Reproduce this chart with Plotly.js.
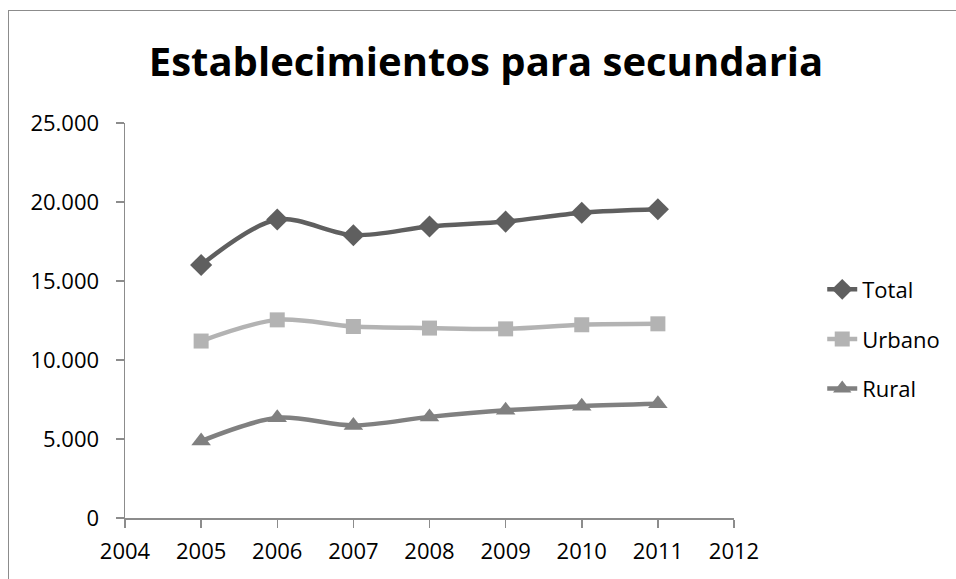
<!DOCTYPE html>
<html>
<head>
<meta charset="utf-8">
<script src="https://cdn.plot.ly/plotly-3.0.1.min.js"></script>
<style>
html,body{margin:0;padding:0;background:#fff;}
#frame{position:absolute;left:8px;top:10px;width:1000px;height:620px;border:1.5px solid #8c8c8c;box-sizing:border-box;}
#chart{position:absolute;left:0;top:0;width:956px;height:579px;}
</style>
</head>
<body>
<div id="frame"></div>
<div id="chart"></div>
<script>
var years = [2005, 2006, 2007, 2008, 2009, 2010, 2011];
var total = [16010, 18890, 17900, 18450, 18760, 19320, 19540];
var urbano = [11200, 12540, 12120, 12020, 11970, 12230, 12290];
var rural = [4870, 6340, 5860, 6400, 6820, 7080, 7230];
var seriesNames = ["Total", "Urbano", "Rural"];
var yTicks = [0, 5000, 10000, 15000, 20000, 25000];
var xTicks = [2004, 2005, 2006, 2007, 2008, 2009, 2010, 2011, 2012];

function tr(name, y, color, symbol, size) {
  return {
    x: years, y: y, name: name, legendgroup: name, type: 'scatter', mode: 'lines+markers',
    line: {color: color, width: 4.5, shape: 'spline', smoothing: 0.9},
    marker: {color: color, symbol: symbol, size: size}
  };
}
var data = [
  tr(seriesNames[0], total, '#5f5f5f', 'diamond', 17),
  tr(seriesNames[1], urbano, '#b3b3b3', 'square', 15),
  tr(seriesNames[2], rural, '#808080', 'triangle-up', 17)
];
var font = '"Open Sans", "Liberation Sans", sans-serif';
var layout = {
  width: 956, height: 579,
  paper_bgcolor: 'rgba(0,0,0,0)', plot_bgcolor: 'rgba(0,0,0,0)',
  separators: ',.',
  margin: {l: 125, r: 221, t: 123, b: 61},
  font: {family: font, size: 22, color: '#000'},
  title: {text: '<b>Establecimientos para secundaria</b>', x: 486/956, xref: 'container', xanchor: 'center',
          y: 1 - 62/579, yanchor: 'middle', yref: 'container',
          font: {family: font, size: 40, color: '#000'}},
  xaxis: {range: [2004, 2012], tickvals: xTicks, ticktext: xTicks.map(String),
          showgrid: false, zeroline: false, showline: true, linecolor: '#8c8c8c', linewidth: 1.5,
          ticks: 'outside', ticklen: 8, tickcolor: '#8c8c8c', tickwidth: 1.5,
          ticklabelstandoff: 5, tickfont: {size: 22}},
  yaxis: {range: [0, 25000], tickvals: yTicks, tickformat: ',d',
          showgrid: false, zeroline: false, showline: true, linecolor: '#8c8c8c', linewidth: 1.5,
          ticks: 'outside', ticklen: 8, tickcolor: '#8c8c8c', tickwidth: 1.5,
          ticklabelstandoff: 12, tickfont: {size: 22}},
  legend: {x: 1.143, xanchor: 'left', y: 0.453, yanchor: 'middle', font: {size: 22},
           traceorder: 'grouped', tracegroupgap: 18, bgcolor: 'rgba(0,0,0,0)'},
  showlegend: true
};
Plotly.newPlot('chart', data, layout, {displayModeBar: false, staticPlot: true});
</script>
</body>
</html>
